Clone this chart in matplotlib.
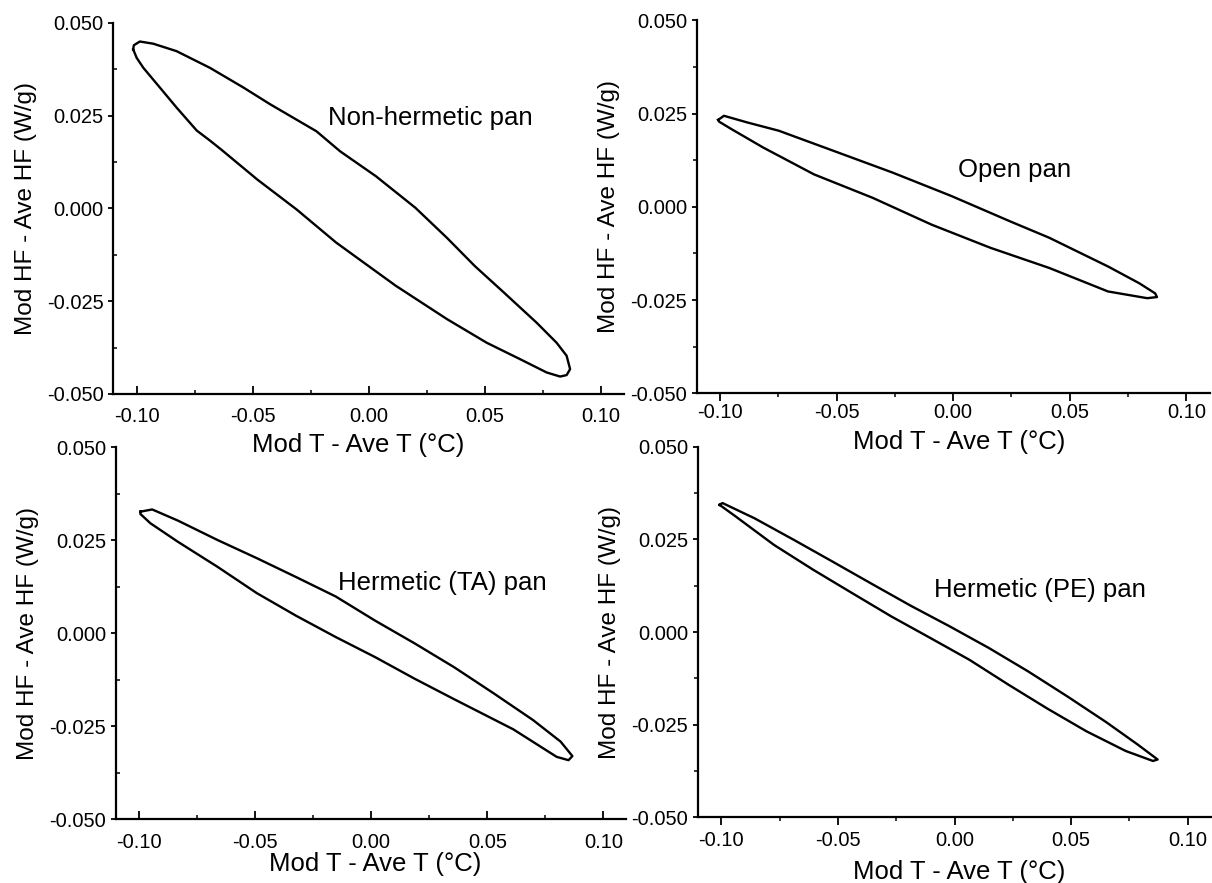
import numpy as np
import matplotlib
matplotlib.use("Agg")
import matplotlib.pyplot as plt
from matplotlib.ticker import FixedLocator, FixedFormatter

plt.rcParams['font.family'] = ['Liberation Sans', 'DejaVu Sans']
plt.rcParams['axes.unicode_minus'] = False

# traced loop points (Mod T - Ave T, Mod HF - Ave HF), one cycle each
nonherm_t = [-0.1015, -0.1012, -0.0986, -0.0928, -0.0828, -0.0684, -0.0540, -0.0425, -0.0225,
             -0.0123, 0.0031, 0.0201, 0.0337, 0.0457, 0.0580, 0.0724, 0.0810, 0.0853,
             0.0868, 0.0853, 0.0825,
             0.0767, 0.0652, 0.0509, 0.0337, 0.0116, -0.0140, -0.0310, -0.0480, -0.0634,
             -0.0684, -0.0741, -0.0828, -0.0900, -0.0971, -0.1000]
nonherm_hf = [0.0429, 0.0440, 0.0450, 0.0444, 0.0424, 0.0379, 0.0326, 0.0281, 0.0208,
              0.0154, 0.0087, 0.0002, -0.0079, -0.0155, -0.0225, -0.0308, -0.0362, -0.0397,
              -0.0433, -0.0449, -0.0453,
              -0.0442, -0.0406, -0.0362, -0.0298, -0.0208, -0.0092, -0.0003, 0.0078, 0.0158,
              0.0183, 0.0210, 0.0272, 0.0326, 0.0379, 0.0406]

open_t = [-0.1008, -0.0983, -0.0882, -0.0748, -0.0513, -0.0261, -0.0008, 0.0244, 0.0412,
          0.0664, 0.0798, 0.0866, 0.0874,
          0.0832, 0.0664, 0.0412, 0.0160, -0.0092, -0.0345, -0.0597, -0.0815, -0.0950, -0.1003]
open_hf = [0.0233, 0.0244, 0.0226, 0.0204, 0.0150, 0.0092, 0.0029, -0.0039, -0.0083,
           -0.0160, -0.0205, -0.0232, -0.0242,
           -0.0245, -0.0227, -0.0164, -0.0110, -0.0048, 0.0024, 0.0087, 0.0159, 0.0208, 0.0228]

ta_t = [-0.0995, -0.0944, -0.0833, -0.0663, -0.0493, -0.0323, -0.0153, 0.0017, 0.0187,
        0.0357, 0.0527, 0.0697, 0.0816, 0.0867, 0.0850,
        0.0799, 0.0612, 0.0357, 0.0187, 0.0017, -0.0153, -0.0323, -0.0493, -0.0663,
        -0.0833, -0.0952, -0.0995]
ta_hf = [0.0327, 0.0333, 0.0303, 0.0251, 0.0202, 0.0151, 0.0099, 0.0034, -0.0027,
         -0.0091, -0.0161, -0.0233, -0.0291, -0.0330, -0.0341,
         -0.0332, -0.0258, -0.0177, -0.0122, -0.0064, -0.0010, 0.0047, 0.0108, 0.0179,
         0.0246, 0.0296, 0.0321]

pe_t = [-0.1008, -0.0995, -0.0858, -0.0690, -0.0523, -0.0355, -0.0188, -0.0020, 0.0147,
        0.0315, 0.0482, 0.0650, 0.0784, 0.0871,
        0.0851, 0.0734, 0.0566, 0.0399, 0.0231, 0.0064, -0.0104, -0.0271, -0.0439,
        -0.0606, -0.0774, -0.0941, -0.1005]
pe_hf = [0.0343, 0.0348, 0.0307, 0.0249, 0.0190, 0.0130, 0.0071, 0.0015, -0.0043,
         -0.0106, -0.0173, -0.0243, -0.0303, -0.0344,
         -0.0348, -0.0321, -0.0268, -0.0207, -0.0142, -0.0075, -0.0016, 0.0042, 0.0105,
         0.0168, 0.0235, 0.0313, 0.0342]

panel_titles = ["Non-hermetic pan", "Open pan", "Hermetic (TA) pan", "Hermetic (PE) pan"]
title_pos = [(-0.0175, 0.0245), (0.0022, 0.0099), (-0.0145, 0.0134), (-0.0087, 0.0114)]

x_major = [-0.10, -0.05, 0.00, 0.05, 0.10]
x_labels = ["-0.10", "-0.05", "0.00", "0.05", "0.10"]
x_minor = [-0.075, -0.025, 0.025, 0.075]
y_major = [-0.050, -0.025, 0.000, 0.025, 0.050]
y_labels = ["-0.050", "-0.025", "0.000", "0.025", "0.050"]
y_minor = [-0.0375, -0.0125, 0.0125, 0.0375]

fig = plt.figure(figsize=(12.12, 8.83), dpi=100)

rects = [
    [0.0936, 0.5538, 0.4212, 0.4202],
    [0.5748, 0.5546, 0.4233, 0.4224],
    [0.0957, 0.0721, 0.4212, 0.4213],
    [0.5759, 0.0744, 0.4233, 0.4197],
]
data = [(nonherm_t, nonherm_hf), (open_t, open_hf), (ta_t, ta_hf), (pe_t, pe_hf)]
xlabel_xy = [(0.479, -0.105), (0.511, -0.098), (0.508, -0.088), (0.510, -0.115)]
xtick_pad = [9.5, 1.5, 10, 4.5]

for i, (rect, (xt, yt)) in enumerate(zip(rects, data)):
    ax = fig.add_axes(rect)
    ax.patch.set_visible(False)  # panels overlap a little, don't hide labels
    xs = np.append(xt, xt[0])
    ys = np.append(yt, yt[0])
    ax.plot(xs, ys, color='black', lw=1.7, solid_joinstyle='round')

    ax.set_xlim(-0.11, 0.11)
    ax.set_ylim(-0.05, 0.05)
    ax.spines['top'].set_visible(False)
    ax.spines['right'].set_visible(False)
    for s in ('left', 'bottom'):
        ax.spines[s].set_linewidth(1.6)

    ax.xaxis.set_major_locator(FixedLocator(x_major))
    ax.xaxis.set_major_formatter(FixedFormatter(x_labels))
    ax.xaxis.set_minor_locator(FixedLocator(x_minor))
    ax.yaxis.set_major_locator(FixedLocator(y_major))
    ax.yaxis.set_major_formatter(FixedFormatter(y_labels))
    ax.yaxis.set_minor_locator(FixedLocator(y_minor))

    xdir = 'in' if i % 2 == 0 else 'out'
    ax.tick_params(axis='x', which='major', direction=xdir, length=5.5, width=1.3,
                   labelsize=14.5, pad=xtick_pad[i])
    ax.tick_params(axis='x', which='minor', direction=xdir, length=3, width=1.1)
    ax.tick_params(axis='y', which='major', direction='out', length=3.5, width=1.3,
                   labelsize=14.5, pad=3.5)
    ax.tick_params(axis='y', which='minor', direction='in' if i % 2 == 0 else 'out',
                   length=3, width=1.1)

    ax.set_xlabel("Mod T - Ave T (°C)", fontsize=18.5, va='top')
    ax.set_ylabel("Mod HF - Ave HF (W/g)", fontsize=17.5)
    ax.xaxis.set_label_coords(*xlabel_xy[i])
    ax.yaxis.set_label_coords(-0.15, 0.5)

    tx, ty = title_pos[i]
    ax.text(tx, ty, panel_titles[i], fontsize=18.5, ha='left', va='center')

fig.savefig("out.png", dpi=100)
